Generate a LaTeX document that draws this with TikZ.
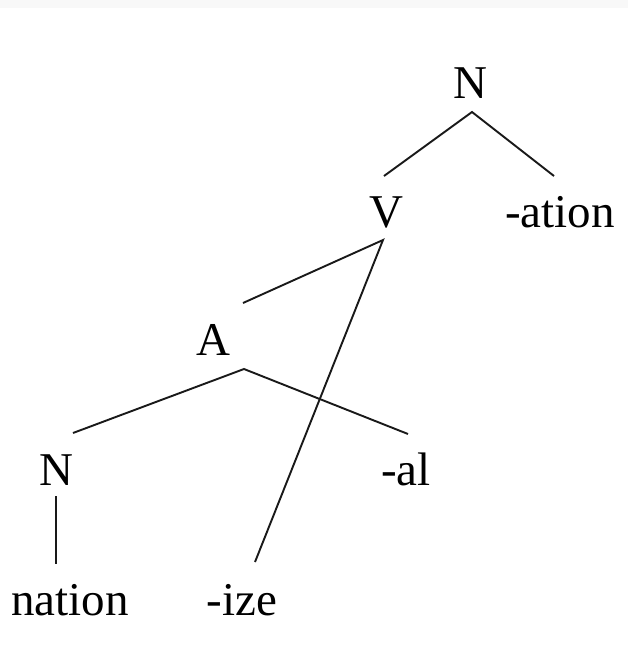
\documentclass[tikz,border=0pt]{standalone}
\usepackage{fontspec}
\setmainfont{Liberation Serif}
\usetikzlibrary{calc}
\definecolor{bandgray}{HTML}{F8F8F8}
\begin{document}
\begin{tikzpicture}[x=1pt,y=-1pt,
  lbl/.style={inner sep=0pt,anchor=base,font=\fontsize{47}{50}\selectfont},
  edge/.style={line width=1.9pt,black!90}]
\useasboundingbox (0,0) rectangle (628,657);
\fill[white] (0,0) rectangle (628,657);
\fill[bandgray] (0,0) rectangle (628,8);
% nodes (base points)
\node[lbl] (nt) at (470,98) {N};
\node[lbl] (v) at (386,227) {V};
\node[lbl] (ation) at (560,227) {-ation};
\node[lbl] (a) at (213,355) {A};
\node[lbl] (nb) at (56,485) {N};
\node[lbl] (al) at (406,485) {-al};
\node[lbl] (nation) at (70,615) {nation};
\node[lbl] (ize) at (242,615) {-ize};
% connectors
\draw[edge] ($(v.base)+(-2,-51)$) -- ($(nt.base)+(2,14)$) -- ($(ation.base)+(-6,-51)$);
\draw[edge] ($(a.base)+(30,-52)$) -- ($(v.base)+(-3,13)$) -- ($(ize.base)+(13,-53)$);
\draw[edge] ($(nb.base)+(17,-52)$) -- ($(a.base)+(31,14)$) -- ($(al.base)+(2,-51)$);
\draw[edge] ($(nb.base)+(0,11)$) -- ($(nation.base)+(-14,-51)$);
\end{tikzpicture}
\end{document}
